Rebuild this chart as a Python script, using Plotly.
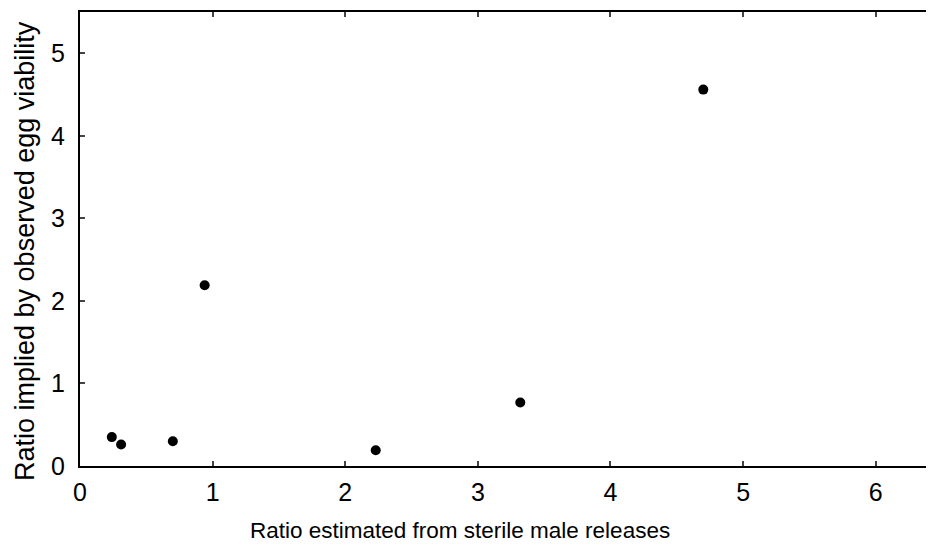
import plotly.graph_objects as go

x_vals = [0.24, 0.31, 0.70, 0.94, 2.23, 3.32, 4.70]
y_vals = [0.35, 0.26, 0.30, 2.19, 0.19, 0.77, 4.56]
x_ticks = [0, 1, 2, 3, 4, 5, 6]
y_ticks = [0, 1, 2, 3, 4, 5]
x_title = "Ratio estimated from sterile male releases"
y_title = "Ratio implied by observed egg viability"

fig = go.Figure(go.Scatter(x=x_vals, y=y_vals, mode="markers",
                           marker=dict(color="black", size=10)))
fam = "Liberation Sans, Arial, sans-serif"
tickf = dict(family=fam, size=25, color="black")
fig.update_layout(
    width=934, height=545, margin=dict(l=72, r=0, t=4, b=87, autoexpand=False),
    paper_bgcolor="white", plot_bgcolor="white", showlegend=False,
    font=dict(family=fam, size=22, color="black"),
    xaxis=dict(range=[0, 6.5], tickvals=x_ticks, ticks="inside", ticklen=5, tickwidth=1.5,
               showline=True, linecolor="black", linewidth=2, mirror="ticks",
               showgrid=False, zeroline=False, ticklabelstandoff=3, automargin=False,
               tickfont=tickf),
    yaxis=dict(range=[0, 5.5], tickvals=y_ticks, ticks="inside", ticklen=5, tickwidth=1.5,
               showline=True, linecolor="black", linewidth=2,
               showgrid=False, zeroline=False, ticklabelstandoff=8, automargin=False,
               tickfont=tickf),
    annotations=[
        dict(text=x_title, xref="paper", yref="paper", x=0.441, y=0, yshift=-50,
             xanchor="center", yanchor="top", showarrow=False,
             font=dict(family=fam, size=22.5, color="black")),
        dict(text=y_title, xref="paper", yref="paper", x=0, y=0.4736, xshift=-55,
             xanchor="center", yanchor="middle", textangle=-90, showarrow=False,
             font=dict(family=fam, size=27, color="black")),
    ],
)
fig.write_html("out.html")
